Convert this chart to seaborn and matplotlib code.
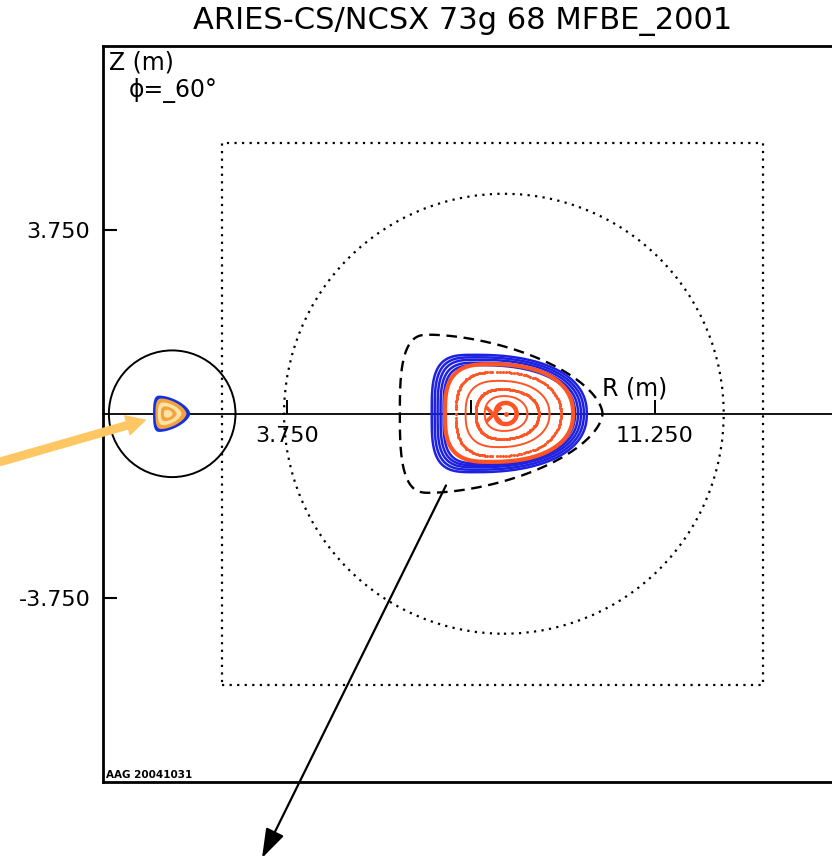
import numpy as np
import pandas as pd
import seaborn as sns
import matplotlib
matplotlib.use("Agg")
import matplotlib.pyplot as plt
from matplotlib.patches import Circle, Rectangle

# ---- cross-section data (metres) ----
title = "ARIES-CS/NCSX 73g 68 MFBE_2001"
r_ticks = [3.75, 7.5, 11.25]
r_tick_labels = ["3.750", "", "11.250"]
z_ticks = [3.75, -3.75]
z_tick_labels = ["3.750", "-3.750"]

axis_r, axis_z = 8.21, 0.0          # magnetic axis
xpoint_r = 7.94                     # red cross on midplane

# last closed boundary (dashed): left, right, top, bottom, R of top extreme
lcfs = dict(left=6.05, right=10.18, top=1.61, bottom=-1.61, peak=6.66, n_in=3.0, n_out=1.7)

# stochastic edge layer (blue)
blue_left = [6.70, 6.76, 6.82, 6.88, 6.94]
blue_right = [9.86, 9.80, 9.74, 9.68, 9.62]
blue_top = [1.20, 1.15, 1.10, 1.04, 0.99]
blue_bottom = [-1.19, -1.14, -1.09, -1.05, -1.01]
blue_peak = [7.58, 7.61, 7.64, 7.67, 7.70]

# nested flux surfaces (orange)
surf_left = [6.97, 7.19, 7.39, 7.60, 7.78, 8.00]
surf_right = [9.58, 9.33, 9.10, 8.88, 8.65, 8.43]
surf_top = [1.01, 0.85, 0.67, 0.50, 0.36, 0.22]
surf_bottom = [-0.98, -0.86, -0.68, -0.51, -0.35, -0.21]
surf_peak = [7.90, 8.02, 8.08, 8.14, 8.18, 8.21]
surf_style = ["solid", "dots", "solid", "dots", "solid", "thick"]

# small inset copy of the plasma inside the left circle
mini_left = [1.02, 1.07, 1.12, 1.18, 1.24]
mini_right = [1.78, 1.70, 1.60, 1.50, 1.42]
mini_top = [0.37, 0.31, 0.23, 0.15, 0.08]
mini_peak = [1.16, 1.20, 1.24, 1.28, 1.32]
mini_colors = ["#1530E0", "#F2A33A", "#FFE2A6", "#F2A33A", "#FFE2A6"]

small_circle = dict(r=1.41, z=0.0, radius=1.29)
big_circle = dict(r=8.17, z=0.0, radius=4.48)
box = dict(r0=2.42, r1=13.45, z0=-5.52, z1=5.51)

# pointer arrows (tail, head) in metres
orange_arrow = [(-2.10, -0.98), (0.86, -0.13)]
black_arrow = [(6.99, -1.46), (3.24, -9.05)]


def surface(left, right, top, bottom, peak, n_in, n_out, num=400):
    t = np.linspace(0, 2 * np.pi, num + 1)
    c, s = np.cos(t), np.sin(t)
    half_w = np.where(c < 0, peak - left, right - peak)
    n = np.where(c < 0, n_in, n_out)
    half_h = np.where(s >= 0, top, -bottom)
    r = peak + half_w * np.sign(c) * np.abs(c) ** (2.0 / n)
    z = half_h * np.sign(s) * np.abs(s) ** (2.0 / n)
    return r, z


sns.set_style("white")
plt.rcParams["font.family"] = ["DejaVu Sans"]
plt.rcParams["text.color"] = "black"
plt.rcParams["xtick.color"] = "black"
plt.rcParams["ytick.color"] = "black"
plt.rcParams["xtick.labelcolor"] = "black"
plt.rcParams["ytick.labelcolor"] = "black"

fig = plt.figure(figsize=(8.32, 8.65), dpi=100)
ax = fig.add_axes([103 / 832, 83 / 865, 736 / 832, 736.5 / 865])
ax.set_xlim(0, 15)
ax.set_ylim(-7.5, 7.5)

orange = "#FF5424"
blue = "#1E22E0"

# geometric reference outlines
ax.add_patch(Circle((small_circle["r"], small_circle["z"]), small_circle["radius"],
                    fill=False, ec="black", lw=1.4))
ax.add_patch(Circle((big_circle["r"], big_circle["z"]), big_circle["radius"],
                    fill=False, ec="black", lw=1.6, ls=(0, (1, 2.4))))
ax.add_patch(Rectangle((box["r0"], box["z0"]), box["r1"] - box["r0"], box["z1"] - box["z0"],
                       fill=False, ec="black", lw=1.6, ls=(0, (1, 2.4))))

# dashed boundary
r, z = surface(**lcfs)
sns.lineplot(x=r, y=z, sort=False, estimator=None, ax=ax, color="black",
             lw=1.7, linestyle=(0, (4.5, 2.8)))

# blue edge layer
for i in range(len(blue_left)):
    r, z = surface(blue_left[i], blue_right[i], blue_top[i], blue_bottom[i],
                   blue_peak[i], 3.5, 2.3)
    sns.lineplot(x=r, y=z, sort=False, estimator=None, ax=ax, color=blue, lw=1.8)

# orange nested surfaces
for i in range(len(surf_left)):
    n_in = 3.0 - 0.16 * i
    n_out = 2.3 - 0.06 * i
    r, z = surface(surf_left[i], surf_right[i], surf_top[i], surf_bottom[i],
                   surf_peak[i], n_in, n_out, num=160 if surf_style[i] == "dots" else 400)
    if surf_style[i] == "dots":
        sns.scatterplot(x=r, y=z, ax=ax, color=orange, s=5, linewidth=0)
    elif surf_style[i] == "thick":
        sns.lineplot(x=r, y=z, sort=False, estimator=None, ax=ax, color=orange, lw=3.2)
    else:
        lw = 3.0 if i == 0 else 1.4
        sns.lineplot(x=r, y=z, sort=False, estimator=None, ax=ax, color=orange, lw=lw)

sns.scatterplot(x=[axis_r], y=[axis_z], ax=ax, color=orange, s=12, linewidth=0)
sns.scatterplot(x=[xpoint_r], y=[axis_z], ax=ax, color=orange, marker="x", s=120,
                linewidth=2.6)

# inset plasma
for i in range(len(mini_left)):
    r, z = surface(mini_left[i], mini_right[i], mini_top[i], -mini_top[i],
                   mini_peak[i], 3.0, 1.6)
    ax.fill(r, z, color=mini_colors[i], lw=0, zorder=3)

# midplane R axis
sec = ax.secondary_xaxis(0.4999)
sec.set_xticks(r_ticks, r_tick_labels)
sec.tick_params(axis="x", direction="in", length=10, width=1.4, pad=9, labelsize=16,
                colors="black")
for sp in sec.spines.values():
    sp.set_linewidth(1.3)
    sp.set_color("black")

ax.set_xticks([])
ax.set_yticks(z_ticks, z_tick_labels)
ax.tick_params(axis="y", direction="in", length=10, width=1.5, pad=9, labelsize=16,
               left=True, right=False, colors="black")
for side in ["top", "left", "bottom"]:
    ax.spines[side].set_linewidth(2.0)
    ax.spines[side].set_color("black")
ax.spines["right"].set_visible(False)
ax.set_xlabel("")
ax.set_ylabel("")

ax.text(0.12, 7.40, "Z (m)", fontsize=17, va="top", ha="left", color="black")
ax.text(0.52, 6.84, "ϕ=_60°", fontsize=17, va="top", ha="left", color="black")
ax.text(10.16, 0.38, "R (m)", fontsize=17, va="baseline", ha="left", color="black")
ax.text(0.06, -7.42, "AAG 20041031", fontsize=7.5, fontweight="bold", va="baseline",
        ha="left", color="black")

fig.text(463 / 832, 1 - 22 / 865, title, fontsize=22, ha="center", va="center",
         color="black")

ax.annotate("", xy=orange_arrow[1], xytext=orange_arrow[0], annotation_clip=False,
            arrowprops=dict(arrowstyle="simple,head_length=0.95,head_width=1.0,tail_width=0.38",
                            color="#FFC764", mutation_scale=14, shrinkA=0, shrinkB=0),
            zorder=5)
ax.annotate("", xy=black_arrow[1], xytext=black_arrow[0], annotation_clip=False,
            arrowprops=dict(arrowstyle="-|>,head_length=0.9,head_width=0.3",
                            color="black", lw=1.6, mutation_scale=20, shrinkA=0, shrinkB=0),
            zorder=5)

fig.savefig("out.png", dpi=100)
